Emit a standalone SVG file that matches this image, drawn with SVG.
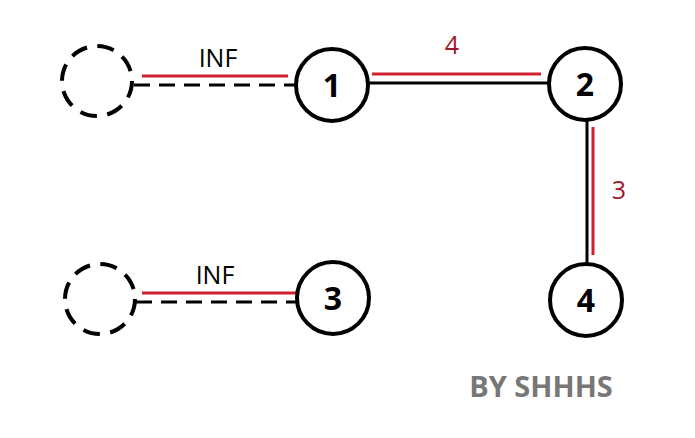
<svg xmlns="http://www.w3.org/2000/svg" width="695" height="438" viewBox="0 0 695 438">
<style>
.node{fill:#fff;stroke:#000;stroke-width:4}
.ghost{fill:none;stroke:#000;stroke-width:4;stroke-dasharray:17 10.5}
.num{font-family:"Open Sans","Noto Sans",sans-serif;font-weight:bold;font-size:32px;text-anchor:middle;fill:#000}
.blk{stroke:#000;stroke-width:3;fill:none}
.dash{stroke:#000;stroke-width:3;fill:none;stroke-dasharray:16 9}
.red{stroke:#d0202e;stroke-width:3;fill:none}
.lbl{font-family:"Open Sans","Noto Sans",sans-serif;font-size:25px;text-anchor:middle}
</style>
<rect width="695" height="438" fill="#fff"/>
<g id="connectors">
<line class="red" x1="142" y1="76" x2="288" y2="76"/>
<line class="dash" x1="134" y1="85" x2="295" y2="85"/>
<line class="red" x1="372" y1="74" x2="541" y2="74"/>
<line class="blk" x1="368" y1="83" x2="549" y2="83"/>
<line class="red" x1="593" y1="127" x2="593" y2="255"/>
<line class="blk" x1="587" y1="120" x2="587" y2="264"/>
<line class="red" x1="142" y1="293" x2="296" y2="293"/>
<line class="dash" x1="136" y1="302" x2="296" y2="302"/>
<text class="lbl" x="218" y="67" fill="#000">INF</text>
<text class="lbl" x="452" y="54" fill="#a0182a">4</text>
<text class="lbl" x="619" y="199" fill="#a0182a">3</text>
<text class="lbl" x="215" y="284" fill="#000">INF</text>
</g>
<g id="ghost1"><circle class="ghost" cx="97" cy="81" r="35"/></g>
<g id="ghost2"><circle class="ghost" cx="100" cy="299" r="35"/></g>
<g id="node1"><circle class="node" cx="332" cy="85" r="36"/><text class="num" x="332" y="97">1</text></g>
<g id="node2"><circle class="node" cx="585" cy="84" r="36"/><text class="num" x="585" y="96">2</text></g>
<g id="node3"><circle class="node" cx="333" cy="298" r="36"/><text class="num" x="333" y="310">3</text></g>
<g id="node4"><circle class="node" cx="586" cy="300" r="36"/><text class="num" x="586" y="312">4</text></g>
<text x="541" y="397" font-family="'Open Sans','Noto Sans',sans-serif" font-weight="bold" font-size="29" fill="#777" text-anchor="middle">BY SHHHS</text>
</svg>
